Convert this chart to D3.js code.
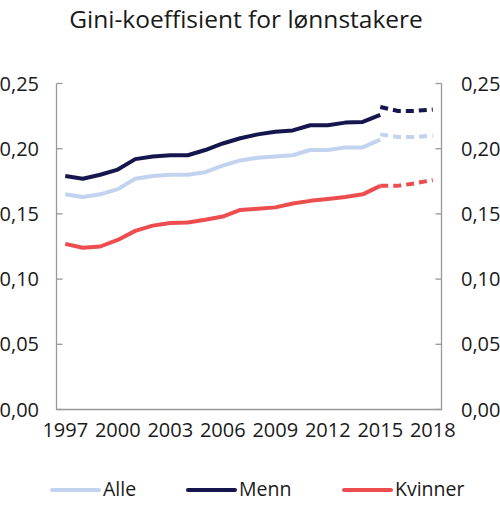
<!DOCTYPE html>
<html lang="no">
<head>
    <meta charset="UTF-8">
    <title>Gini-koeffisient for lønnstakere</title>
    <script src="https://d3js.org/d3.v7.min.js"></script>
    <style>
        body { margin: 0; background: #fff; }
        svg { display: block; }
        text { font-family: "Open Sans", sans-serif; fill: #1a1a1a; }
        .title { font-size: 24.5px; }
        .tick-label { font-size: 20px; }
        .legend text { font-size: 19.5px; }
        .axis-line { stroke: #999; stroke-width: 1.3; fill: none; }
    </style>
</head>
<body>
<script>
    // data
    const years = d3.range(1997, 2019);
    const histYears = d3.range(1997, 2016);
    const projYears = [2015, 2016, 2017, 2018];

    const alle    = [0.165, 0.163, 0.165, 0.169, 0.177, 0.179, 0.180, 0.180, 0.182, 0.187,
                     0.191, 0.193, 0.194, 0.195, 0.199, 0.199, 0.201, 0.201, 0.207];
    const menn    = [0.179, 0.177, 0.180, 0.184, 0.192, 0.194, 0.195, 0.195, 0.199, 0.204,
                     0.208, 0.211, 0.213, 0.214, 0.218, 0.218, 0.220, 0.2205, 0.226];
    const kvinner = [0.127, 0.124, 0.125, 0.130, 0.137, 0.141, 0.143, 0.1434, 0.1455, 0.148,
                     0.153, 0.154, 0.155, 0.158, 0.160, 0.1615, 0.163, 0.165, 0.1715];

    const alleProj    = [0.211, 0.209, 0.209, 0.210];
    const mennProj    = [0.232, 0.229, 0.229, 0.230];
    const kvinnerProj = [0.1715, 0.1715, 0.1735, 0.176];

    const yTicks = [0, 0.05, 0.10, 0.15, 0.20, 0.25];
    const xTicks = [1997, 2000, 2003, 2006, 2009, 2012, 2015, 2018];

    const seriesNames = ["Alle", "Menn", "Kvinner"];
    const colors = ["#c2d3ef", "#16164f", "#ee4d4f"];

    const width = 500, height = 507;
    const plotLeft = 56.5, plotRight = 441.5, plotTop = 83.5, plotBottom = 409.5;

    const svg = d3.select("body").append("svg")
        .attr("width", width)
        .attr("height", height);

    const x = d3.scalePoint()
        .domain(years)
        .range([plotLeft, plotRight])
        .padding(0.5);

    const y = d3.scaleLinear()
        .domain([0, 0.25])
        .range([plotBottom, plotTop]);

    const fmt = v => d3.format(".2f")(v).replace(".", ",");

    // title
    svg.append("text")
        .attr("class", "title")
        .attr("x", 246)
        .attr("y", 28)
        .attr("text-anchor", "middle")
        .text("Gini-koeffisient for lønnstakere");

    // frame: left, bottom, right lines
    svg.append("path")
        .attr("class", "axis-line")
        .attr("d", `M${plotLeft},${plotTop}V${plotBottom}H${plotRight}V${plotTop}`);

    // inward ticks on both sides
    svg.selectAll("line.ltick")
        .data(yTicks)
        .enter()
        .append("line")
        .attr("class", "axis-line ltick")
        .attr("x1", plotLeft).attr("x2", plotLeft + 6)
        .attr("y1", d => y(d)).attr("y2", d => y(d));

    svg.selectAll("line.rtick")
        .data(yTicks)
        .enter()
        .append("line")
        .attr("class", "axis-line rtick")
        .attr("x1", plotRight - 6).attr("x2", plotRight)
        .attr("y1", d => y(d)).attr("y2", d => y(d));

    svg.selectAll("text.ylab-l")
        .data(yTicks)
        .enter()
        .append("text")
        .attr("class", "tick-label ylab-l")
        .attr("x", 39)
        .attr("y", d => y(d))
        .attr("dy", "0.35em")
        .attr("text-anchor", "end")
        .text(fmt);

    svg.selectAll("text.ylab-r")
        .data(yTicks)
        .enter()
        .append("text")
        .attr("class", "tick-label ylab-r")
        .attr("x", 461)
        .attr("y", d => y(d))
        .attr("dy", "0.35em")
        .attr("text-anchor", "start")
        .text(fmt);

    svg.selectAll("text.xlab")
        .data(xTicks)
        .enter()
        .append("text")
        .attr("class", "tick-label xlab")
        .attr("x", d => x(d))
        .attr("y", 437)
        .attr("text-anchor", "middle")
        .text(d => d);

    // lines
    const line = d3.line()
        .x(d => x(d[0]))
        .y(d => y(d[1]));

    const hist = [alle, menn, kvinner];
    const proj = [alleProj, mennProj, kvinnerProj];

    hist.forEach((vals, i) => {
        svg.append("path")
            .datum(histYears.map((yr, j) => [yr, vals[j]]))
            .attr("fill", "none")
            .attr("stroke", colors[i])
            .attr("stroke-width", 4)
            .attr("stroke-linejoin", "round")
            .attr("d", line);
    });

    proj.forEach((vals, i) => {
        svg.append("path")
            .datum(projYears.map((yr, j) => [yr, vals[j]]))
            .attr("fill", "none")
            .attr("stroke", colors[i])
            .attr("stroke-width", 4)
            .attr("stroke-dasharray", "8,5")
            .attr("d", line);
    });

    // legend
    const legendX = [52, 188, 344];
    const legend = svg.append("g").attr("class", "legend");
    seriesNames.forEach((name, i) => {
        legend.append("line")
            .attr("x1", legendX[i]).attr("x2", legendX[i] + 47)
            .attr("y1", 490).attr("y2", 490)
            .attr("stroke", colors[i])
            .attr("stroke-width", 4)
            .attr("stroke-linecap", "round");
        legend.append("text")
            .attr("x", legendX[i] + 51)
            .attr("y", 496)
            .text(name);
    });
</script>
</body>
</html>
